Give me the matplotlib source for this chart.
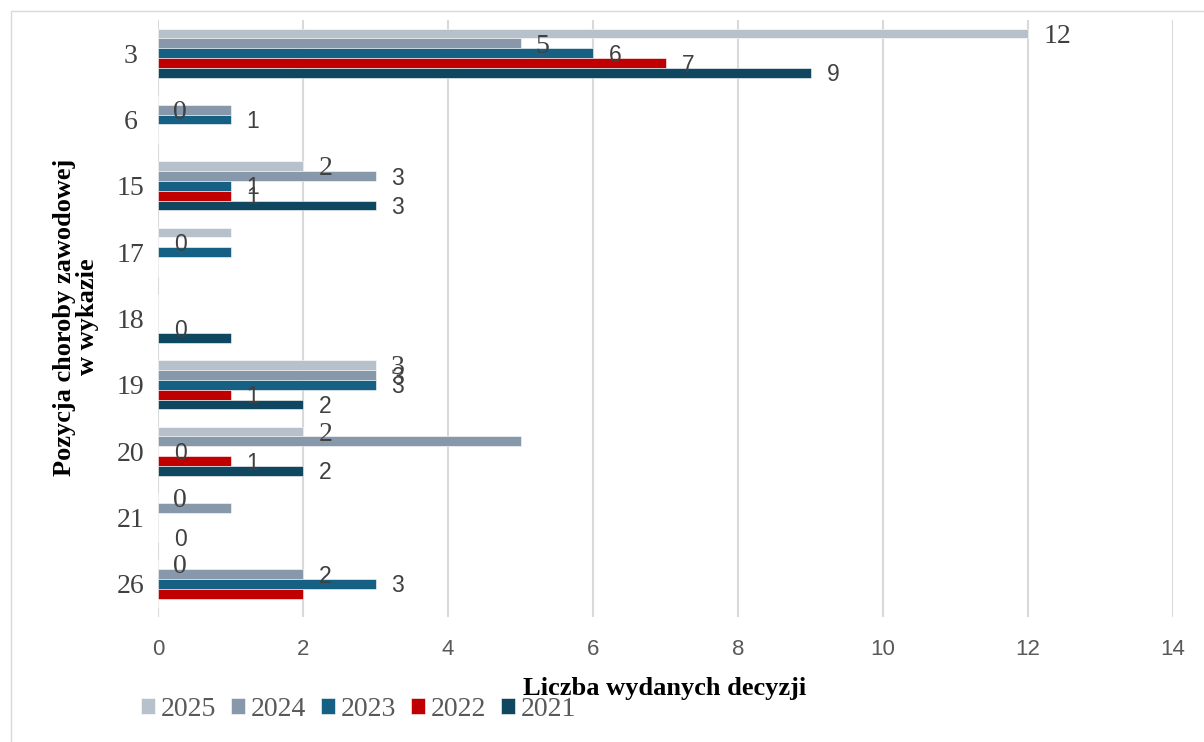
import numpy as np
import matplotlib
matplotlib.use("Agg")
import matplotlib.pyplot as plt
from matplotlib.patches import Rectangle

categories = ["3", "6", "15", "17", "18", "19", "20", "21", "26"]
years = ["2025", "2024", "2023", "2022", "2021"]

# bar lengths, one list per year (top to bottom inside each group)
v2025 = [12, 0, 2, 1, 0, 3, 2, 0, 0]
v2024 = [5, 1, 3, 0, 0, 3, 5, 1, 2]
v2023 = [6, 1, 1, 1, 0, 3, 0, 0, 3]
v2022 = [7, 0, 1, 0, 0, 1, 1, 0, 2]
v2021 = [9, 0, 3, 0, 1, 2, 2, 0, 0]

# data labels as they are printed on the chart (None = no label)
l2025 = [12, None, 2, None, None, 3, 2, 0, 0]
l2024 = [5, 0, 3, 0, None, 3, None, None, 2]
l2023 = [6, 1, 1, None, None, 3, 0, None, 3]
l2022 = [7, None, 1, None, 0, 1, 1, None, None]
l2021 = [9, None, 3, None, None, 2, 2, 0, None]

x_ticks = [0, 2, 4, 6, 8, 10, 12, 14]

values = [v2025, v2024, v2023, v2022, v2021]
labels = [l2025, l2024, l2023, l2022, l2021]
colors = ["#b7c1cb", "#8798aa", "#166083", "#c00000", "#0f4761"]
# labels drawn in serif font (series index, category index)
serif_labels = {(0, 0), (0, 2), (0, 5), (0, 6), (0, 7), (0, 8), (1, 0), (1, 1)}

W, H = 1204, 742
fig = plt.figure(figsize=(W / 100, H / 100), dpi=100)
ax = fig.add_axes([158 / W, 1 - 617 / H, (1173 - 158) / W, (617 - 20) / H])

ypos = np.arange(len(categories))
bh = 0.148
for i, yr in enumerate(years):
    off = (i - 2) * bh
    ax.barh(ypos + off, values[i], height=bh, color=colors[i],
            edgecolor="white", linewidth=0.4, label=yr, zorder=2)
    for j, lab in enumerate(labels[i]):
        if lab is None:
            continue
        if (i, j) in serif_labels:
            ax.annotate(str(lab), (lab, ypos[j] + off), xytext=(11, -2),
                        textcoords="offset points", ha="left", va="center",
                        fontsize=20, family="Liberation Serif", color="#404040", zorder=3)
        else:
            ax.annotate(str(lab), (lab, ypos[j] + off), xytext=(11.5, -1.5),
                        textcoords="offset points", ha="left", va="center",
                        fontsize=16.5, family="Liberation Sans", color="#404040", zorder=3)

ax.set_ylim(len(categories) - 0.5, -0.5)
ax.set_xlim(0, 14)
ax.set_xticks(x_ticks)
ax.set_xticklabels([str(t) for t in x_ticks], family="Liberation Sans",
                   fontsize=16, color="#595959")
ax.set_yticks(ypos)
ax.set_yticklabels(categories, family="Liberation Serif", fontsize=20, color="#404040",
                   ha="center")
ax.tick_params(axis="both", length=0)
ax.tick_params(axis="x", pad=16)
ax.tick_params(axis="y", pad=20)
for s in ax.spines.values():
    s.set_visible(False)
ax.grid(axis="x", color="#d9d9d9", linewidth=1.5, zorder=0)
ax.set_axisbelow(True)

fig.text(665 / W, 1 - 689 / H, "Liczba wydanych decyzji", ha="center", va="center",
         fontsize=19, fontweight="bold", family="Liberation Serif", color="black")
fig.text(76 / W, 1 - 317 / H, "Pozycja choroby zawodowej\nw wykazie", rotation=90,
         ha="center", va="center", multialignment="center", linespacing=1.05,
         fontsize=19, fontweight="bold", family="Liberation Serif", color="black")

handles, hl = ax.get_legend_handles_labels()
leg = fig.legend(handles, hl, loc="center left", bbox_to_anchor=(141 / W, 1 - 709 / H),
                 ncol=5, frameon=False, handlelength=0.5, handleheight=0.5,
                 handletextpad=0.2, columnspacing=0.55, borderpad=0, borderaxespad=0,
                 prop={"family": "Liberation Serif", "size": 20})
for t in leg.get_texts():
    t.set_color("#595959")

fig.add_artist(Rectangle((11 / W, -0.05), 1.1, 1 - 11 / H + 0.05, transform=fig.transFigure,
                         fill=False, edgecolor="#d9d9d9", linewidth=1))

fig.savefig("out.png", dpi=100)
